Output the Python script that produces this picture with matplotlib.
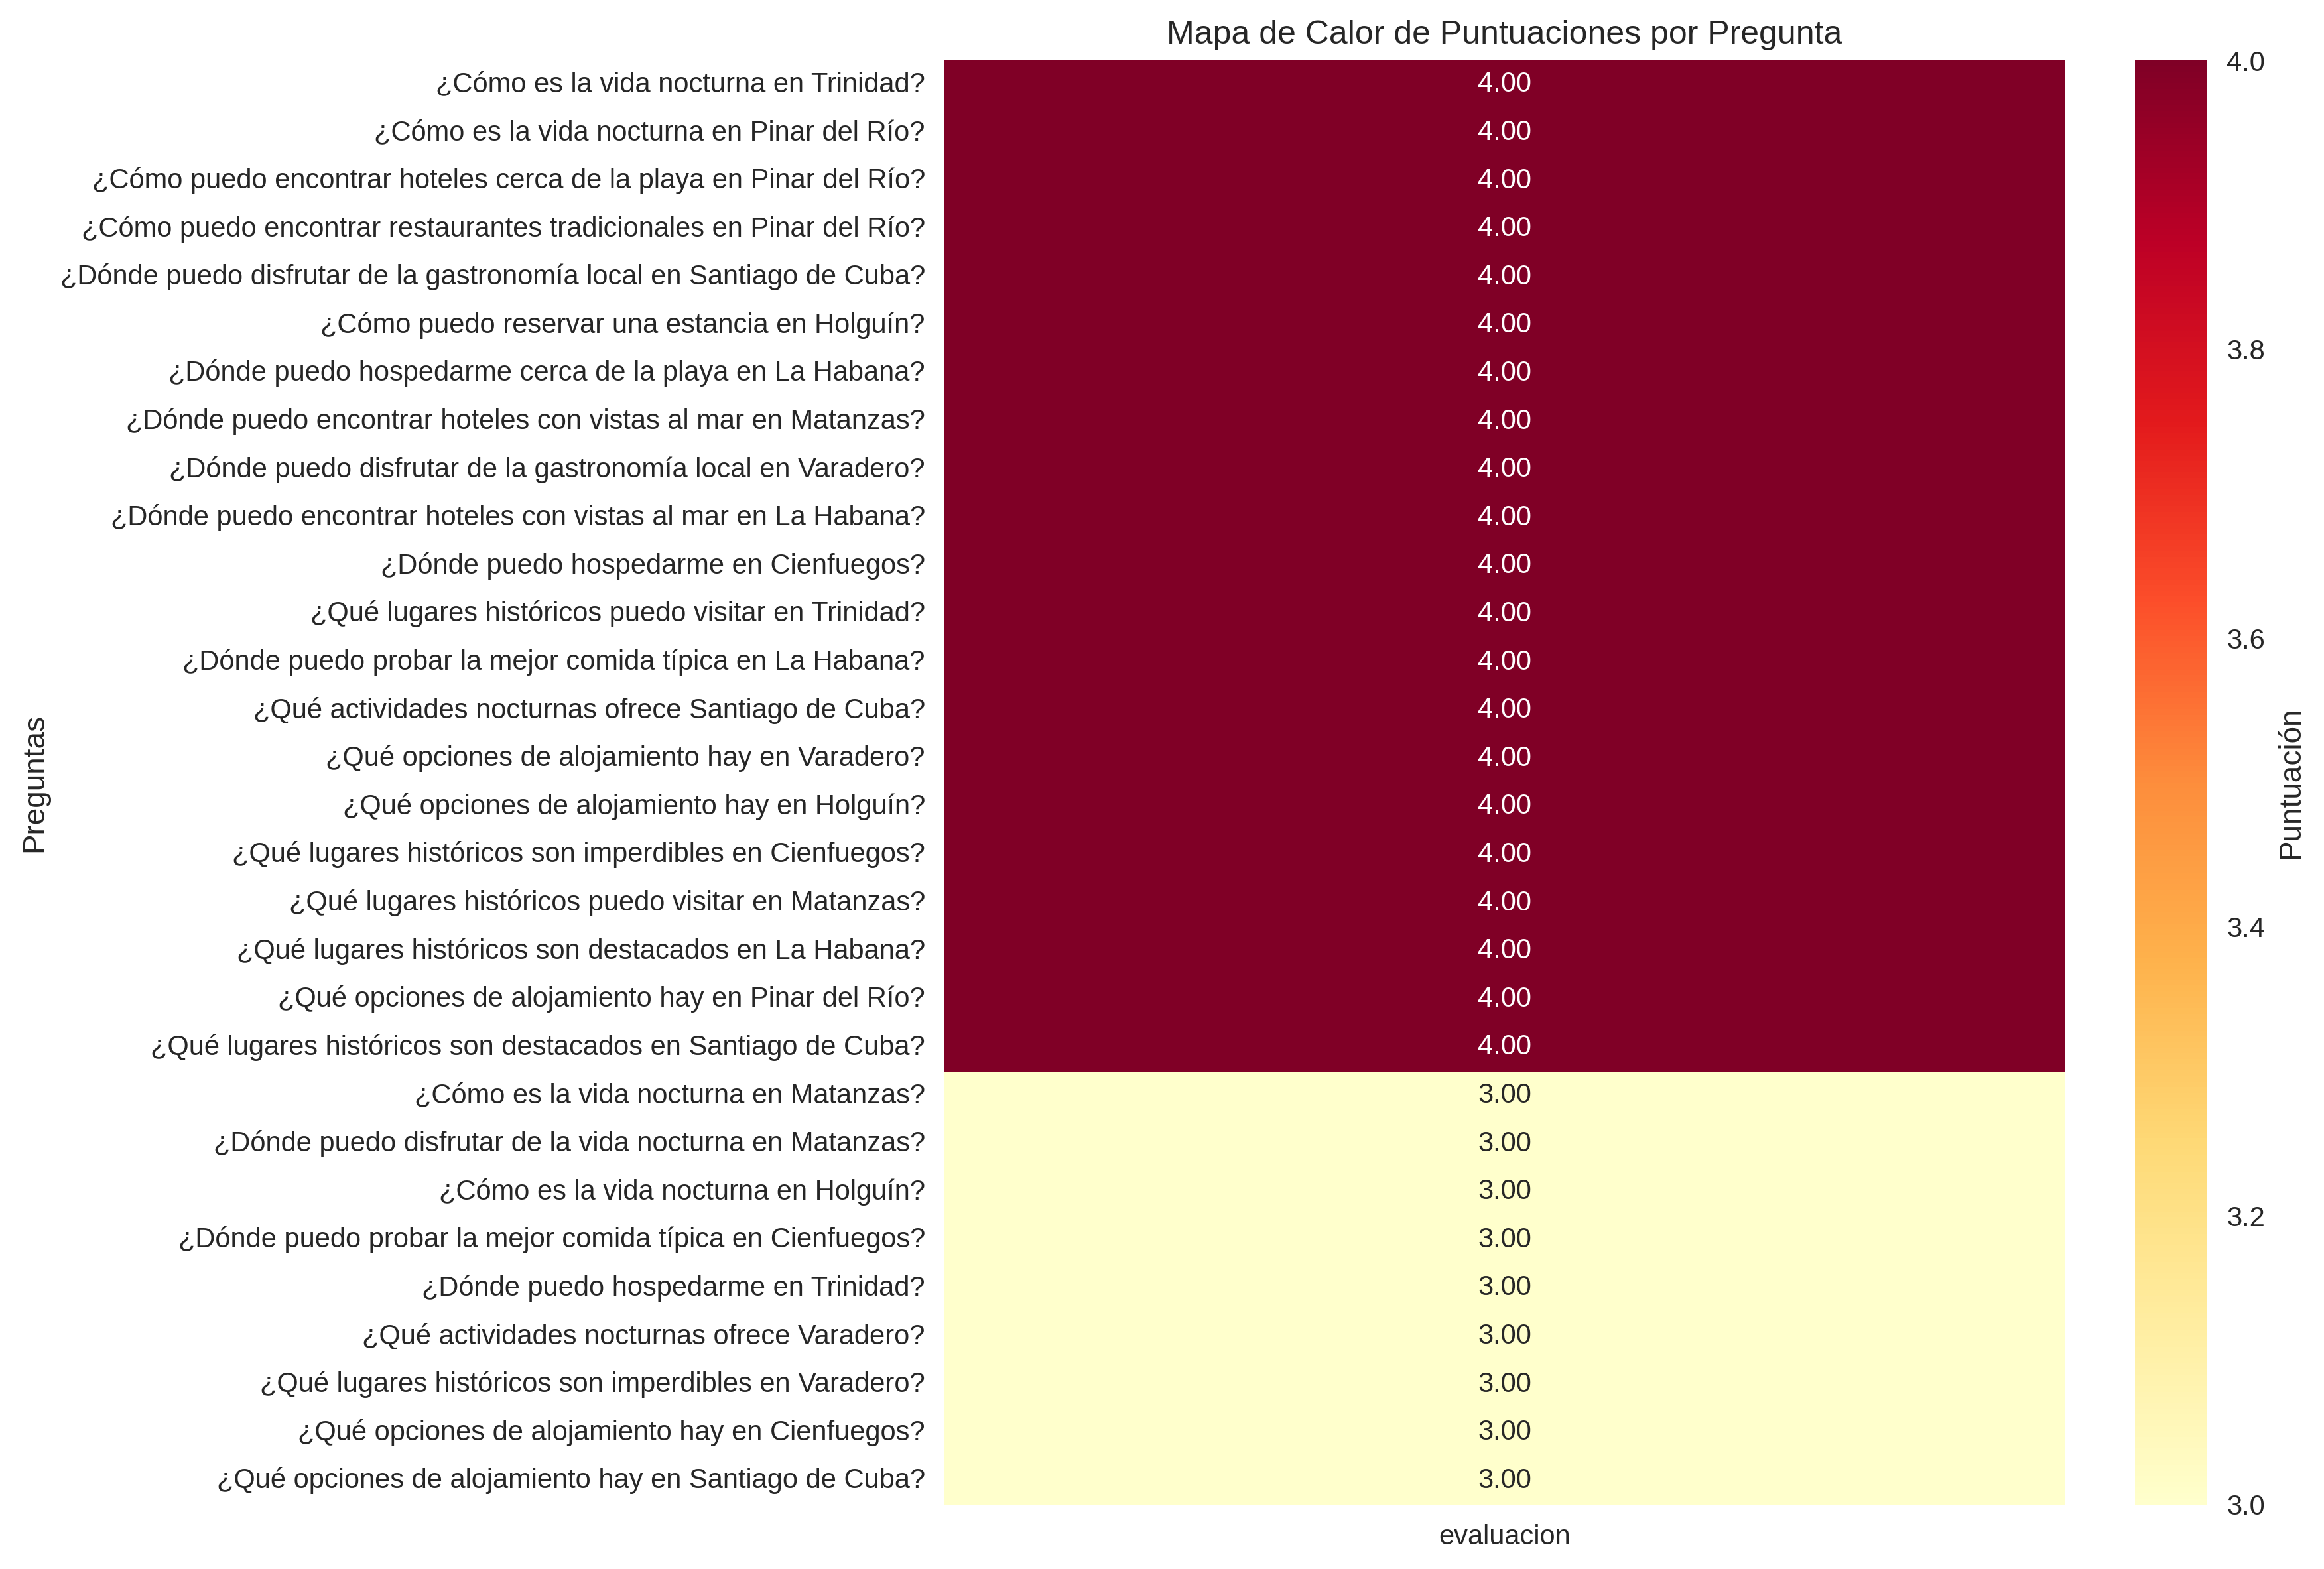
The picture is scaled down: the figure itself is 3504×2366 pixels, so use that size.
import numpy as np
import matplotlib
matplotlib.use("Agg")
import matplotlib.pyplot as plt
import seaborn as sns
import pandas as pd

preguntas = [
    "¿Cómo es la vida nocturna en Trinidad?",
    "¿Cómo es la vida nocturna en Pinar del Río?",
    "¿Cómo puedo encontrar hoteles cerca de la playa en Pinar del Río?",
    "¿Cómo puedo encontrar restaurantes tradicionales en Pinar del Río?",
    "¿Dónde puedo disfrutar de la gastronomía local en Santiago de Cuba?",
    "¿Cómo puedo reservar una estancia en Holguín?",
    "¿Dónde puedo hospedarme cerca de la playa en La Habana?",
    "¿Dónde puedo encontrar hoteles con vistas al mar en Matanzas?",
    "¿Dónde puedo disfrutar de la gastronomía local en Varadero?",
    "¿Dónde puedo encontrar hoteles con vistas al mar en La Habana?",
    "¿Dónde puedo hospedarme en Cienfuegos?",
    "¿Qué lugares históricos puedo visitar en Trinidad?",
    "¿Dónde puedo probar la mejor comida típica en La Habana?",
    "¿Qué actividades nocturnas ofrece Santiago de Cuba?",
    "¿Qué opciones de alojamiento hay en Varadero?",
    "¿Qué opciones de alojamiento hay en Holguín?",
    "¿Qué lugares históricos son imperdibles en Cienfuegos?",
    "¿Qué lugares históricos puedo visitar en Matanzas?",
    "¿Qué lugares históricos son destacados en La Habana?",
    "¿Qué opciones de alojamiento hay en Pinar del Río?",
    "¿Qué lugares históricos son destacados en Santiago de Cuba?",
    "¿Cómo es la vida nocturna en Matanzas?",
    "¿Dónde puedo disfrutar de la vida nocturna en Matanzas?",
    "¿Cómo es la vida nocturna en Holguín?",
    "¿Dónde puedo probar la mejor comida típica en Cienfuegos?",
    "¿Dónde puedo hospedarme en Trinidad?",
    "¿Qué actividades nocturnas ofrece Varadero?",
    "¿Qué lugares históricos son imperdibles en Varadero?",
    "¿Qué opciones de alojamiento hay en Cienfuegos?",
    "¿Qué opciones de alojamiento hay en Santiago de Cuba?",
]
evaluacion = [4] * 21 + [3] * 9

df = pd.DataFrame({"evaluacion": evaluacion}, index=preguntas)

sns.set_style("whitegrid")
plt.rcParams['font.family'] = ['Liberation Sans', 'DejaVu Sans']

fig = plt.figure(figsize=(3504 / 300, 2366 / 300), dpi=300)
ax = fig.add_axes([0.4064, 0.0410, 0.4820, 0.9205])
cax = fig.add_axes([0.9187, 0.0410, 0.0311, 0.9205])

sns.heatmap(df, annot=True, fmt=".2f", cmap="YlOrRd", ax=ax, cbar_ax=cax,
            cbar_kws={'label': 'Puntuación'}, annot_kws={'fontsize': 10})

ax.set_title("Mapa de Calor de Puntuaciones por Pregunta", fontsize=12)
ax.set_ylabel("Preguntas", fontsize=11)
ax.tick_params(axis='both', length=0, pad=7, labelsize=10)
cax.tick_params(length=0, pad=7, labelsize=10)
cax.yaxis.label.set_size(11)

fig.savefig("out.png", dpi=300)
